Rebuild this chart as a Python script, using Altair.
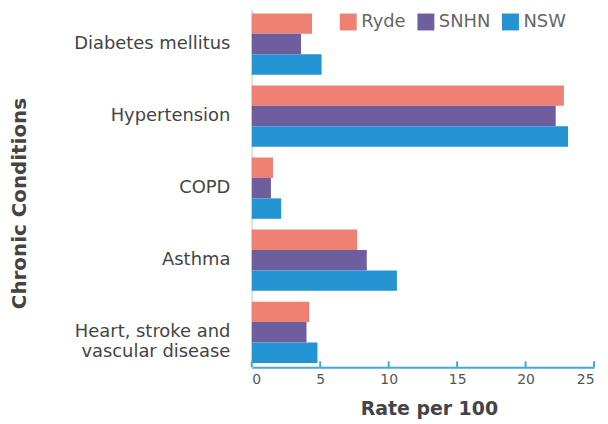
import altair as alt
import pandas as pd

conditions = ["Diabetes mellitus", "Hypertension", "COPD", "Asthma",
              "Heart, stroke and vascular disease"]
regions = ["Ryde", "SNHN", "NSW"]
ryde = [4.4, 22.8, 1.55, 7.7, 4.2]
snhn = [3.6, 22.2, 1.4, 8.4, 4.0]
nsw = [5.1, 23.1, 2.15, 10.6, 4.8]
colors = ["#EE8172", "#6F5E9E", "#2393D1"]
ticks = [0, 5, 10, 15, 20, 25]

rows = []
for i, c in enumerate(conditions):
    for r, vals in zip(regions, [ryde, snhn, nsw]):
        rows.append({"Condition": c, "Region": r, "Rate": vals[i]})
df = pd.DataFrame(rows)
tick_df = pd.DataFrame({"t": ticks})

FONT = "DejaVu Sans"
W, H = 344, 360

xscale = alt.Scale(domain=[0, 25], nice=False, zero=True)

bars = alt.Chart(df).mark_bar().encode(
    x=alt.X("Rate:Q", scale=xscale,
            axis=alt.Axis(values=ticks, title="Rate per 100", grid=False,
                          domainColor="#45A8DC", domainWidth=2, ticks=False,
                          labelColor="#555", labelFontSize=14, labelFont=FONT,
                          labelPadding=5, titleFont=FONT, titleFontSize=19,
                          titleFontWeight="bold", titleColor="#444",
                          titlePadding=14, titleX=178)),
    y=alt.Y("Condition:N", sort=conditions,
            scale=alt.Scale(paddingInner=0.15, paddingOuter=0.06),
            axis=alt.Axis(title="Chronic Conditions", ticks=False,
                          domainColor="#DDDDDD", domainWidth=2,
                          labelColor="#444", labelFontSize=18, labelFont=FONT,
                          labelPadding=22, labelLimit=300, labelLineHeight=20,
                          labelExpr="datum.label == 'Heart, stroke and vascular disease' ? ['Heart, stroke and', 'vascular disease'] : datum.label",
                          titleFont=FONT, titleFontSize=20, titleFontWeight="bold",
                          titleColor="#444", titlePadding=44, titleY=195)),
    yOffset=alt.YOffset("Region:N", sort=regions),
    color=alt.Color("Region:N", sort=regions,
                    scale=alt.Scale(domain=regions, range=colors),
                    legend=alt.Legend(title=None, orient="none", direction="horizontal",
                                      legendX=88, legendY=4, symbolType="square",
                                      symbolSize=289, symbolStrokeWidth=0,
                                      labelFontSize=18, labelColor="#666",
                                      labelFont=FONT, columnPadding=11,
                                      symbolOpacity=1)),
)

tickmarks = alt.Chart(tick_df).mark_rule(color="#45A8DC", strokeWidth=2).encode(
    x=alt.X("t:Q", scale=xscale),
    y=alt.value(H - 6),
    y2=alt.value(H),
)

chart = alt.layer(bars, tickmarks).properties(
    width=W, height=H,
    padding={"left": 1, "top": 0, "right": 5, "bottom": 5},
).configure_view(stroke=None)

chart.save("out.html", embed_options={"renderer": "svg", "actions": False})
